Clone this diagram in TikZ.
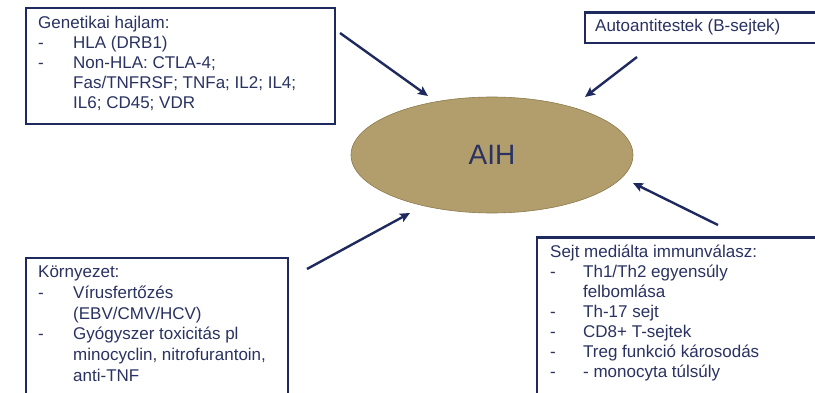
\documentclass[tikz,border=0pt]{standalone}
\usepackage{fontspec}
\setmainfont{Liberation Sans}
\usetikzlibrary{shapes.geometric,arrows.meta}
\definecolor{navy}{RGB}{30,42,94}
\definecolor{txt}{RGB}{42,50,98}
\definecolor{olive}{RGB}{177,158,108}
\definecolor{olivedark}{RGB}{140,122,78}
\tikzset{
  box/.style={draw=navy, line width=2.3pt, fill=white, anchor=north west, inner sep=0pt},
  lbl/.style={anchor=base west, inner sep=0pt, text=txt, font=\fontsize{17}{20}\selectfont},
  arr/.style={draw=navy, line width=2.4pt, -{Stealth[length=10pt,width=9pt,inset=2pt]}},
}
\begin{document}
\begin{tikzpicture}[x=1pt,y=-1pt]
\useasboundingbox (0,0) rectangle (815,393);
\clip (0,0) rectangle (815,393);
% boxes
\node[box, minimum width=309pt, minimum height=116pt] (gen) at (24.5,7) {};
\node[box, minimum width=236pt, minimum height=30.5pt] (auto) at (584,11.5) {};
\node[box, minimum width=262pt, minimum height=150pt] (env) at (24.5,257) {};
\node[box, minimum width=290pt, minimum height=170pt] (cell) at (536,236.5) {};
% ellipse
\node[ellipse, draw=olivedark, line width=0.6pt, fill=olive, minimum width=282pt, minimum height=116pt, inner sep=0pt,
      text=txt, font=\fontsize{28}{32}\selectfont] (aih) at (492,155) {AIH};
% texts
\node[lbl] (gent) at (38,28.5) {\begin{tabular}[t]{@{}p{35pt}@{}l@{}}
\multicolumn{2}{@{}l@{}}{Genetikai hajlam:}\\
-& HLA (DRB1)\\
-& Non-HLA: CTLA-4;\\
 & Fas/TNFRSF; TNFa; IL2; IL4;\\
 & IL6; CD45; VDR
\end{tabular}};
\node[lbl] (autot) at (595,32) {Autoantitestek (B-sejtek)};
\node[lbl, font=\fontsize{17}{20.8}\selectfont] (envt) at (38,277.5) {\begin{tabular}[t]{@{}p{35pt}@{}l@{}}
\multicolumn{2}{@{}l@{}}{Környezet:}\\
-& Vírusfertőzés\\
 & (EBV/CMV/HCV)\\
-& Gyógyszer toxicitás pl\\
 & minocyclin, nitrofurantoin,\\
 & anti-TNF
\end{tabular}};
\node[lbl] (cellt) at (550,258) {\begin{tabular}[t]{@{}p{33pt}@{}l@{}}
\multicolumn{2}{@{}l@{}}{Sejt mediálta immunválasz:}\\
-& Th1/Th2 egyensúly\\
 & felbomlása\\
-& Th-17 sejt\\
-& CD8+ T-sejtek\\
-& Treg funkció károsodás\\
-& - monocyta túlsúly
\end{tabular}};
% arrow end points
\coordinate (a1s) at (340,33);  \coordinate (a1e) at (428,96);
\coordinate (a2s) at (637,57);  \coordinate (a2e) at (585,97);
\coordinate (a3s) at (718,225); \coordinate (a3e) at (633,183);
\coordinate (a4s) at (307,269); \coordinate (a4e) at (410,213);
\draw[arr] (a1s) -- (a1e);
\draw[arr] (a2s) -- (a2e);
\draw[arr] (a3s) -- (a3e);
\draw[arr] (a4s) -- (a4e);
\end{tikzpicture}
\end{document}
